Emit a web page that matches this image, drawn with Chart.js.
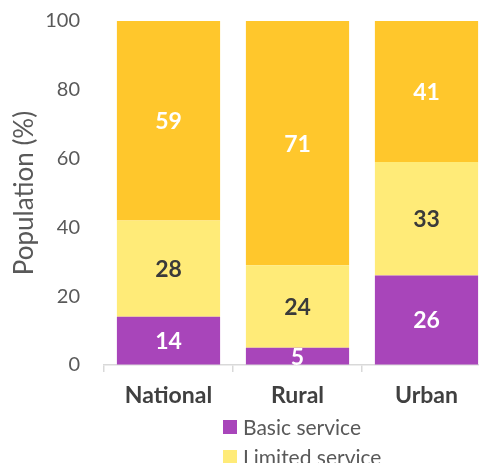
<!DOCTYPE html>
<html>
<head>
<meta charset="utf-8">
<script src="https://cdn.jsdelivr.net/npm/chart.js@4/dist/chart.umd.min.js"></script>
<style>
  html, body { margin: 0; padding: 0; background: #fff; overflow: hidden; }
  #wrap { width: 492px; height: 463px; }
</style>
</head>
<body>
<div id="wrap"><canvas id="chart" width="492" height="463"></canvas></div>
<script>
// Drinking-water service levels by area, % of population.
const categories = ["National", "Rural", "Urban"];
const basicService = [14, 5, 26];
const limitedService = [28, 24, 33];
const otherService = [59, 71, 41];
const yTicks = [0, 20, 40, 60, 80, 100];

const FONT = "Lato, 'Open Sans', sans-serif";
const GREY = "#595959";

// Value labels in the middle of the visible part of each bar segment.
const barLabels = {
  id: "barLabels",
  afterDatasetsDraw(chart) {
    const ctx = chart.ctx;
    const area = chart.chartArea;
    ctx.save();
    ctx.font = "bold 23px " + FONT;
    ctx.textAlign = "center";
    ctx.textBaseline = "middle";
    chart.data.datasets.forEach((ds, i) => {
      const meta = chart.getDatasetMeta(i);
      meta.data.forEach((bar, j) => {
        const top = Math.max(Math.min(bar.y, bar.base), area.top);
        const bottom = Math.min(Math.max(bar.y, bar.base), area.bottom);
        ctx.fillStyle = ds.labelColor;
        ctx.fillText(String(ds.data[j]), bar.x, (top + bottom) / 2 + 1);
      });
    });
    ctx.restore();
  },
};

// Vertical legend under the axis (only the first two series are listed).
const stackedLegend = {
  id: "stackedLegend",
  afterDraw(chart) {
    const ctx = chart.ctx;
    ctx.save();
    ctx.font = "21px " + FONT;
    ctx.textBaseline = "middle";
    ctx.textAlign = "left";
    chart.data.datasets.slice(0, 2).forEach((ds, i) => {
      const y = 427 + i * 30;
      ctx.fillStyle = ds.backgroundColor;
      ctx.fillRect(223, y - 7, 14, 14);
      ctx.fillStyle = GREY;
      ctx.fillText(ds.label, 243, y + 1);
    });
    ctx.restore();
  },
};

new Chart(document.getElementById("chart"), {
  type: "bar",
  data: {
    labels: categories,
    datasets: [
      { label: "Basic service", data: basicService, backgroundColor: "#A845BA", labelColor: "#ffffff" },
      { label: "Limited service", data: limitedService, backgroundColor: "#FFEB78", labelColor: "#3a3a3a" },
      { label: "Other", data: otherService, backgroundColor: "#FFC72C", labelColor: "#ffffff" },
    ],
  },
  options: {
    responsive: false,
    animation: false,
    barPercentage: 0.8,
    categoryPercentage: 1,
    layout: { padding: { top: 21, right: 1, left: 9, bottom: 0 } },
    plugins: {
      legend: { display: false },
      tooltip: { enabled: false },
    },
    scales: {
      x: {
        stacked: true,
        grid: { drawOnChartArea: false, drawTicks: true, tickLength: 7, color: "#D9D9D9", lineWidth: 1.5 },
        border: { display: true, color: "#D9D9D9", width: 1.5 },
        ticks: { color: "#404040", font: { family: FONT, size: 23, weight: "bold" }, padding: 10, maxRotation: 0 },
        afterFit: (s) => { s.height = 98; },
      },
      y: {
        stacked: true,
        min: 0,
        max: 100,
        afterBuildTicks: (s) => { s.ticks = yTicks.map((v) => ({ value: v })); },
        // invisible tick marks carry the gap between labels and bars
        grid: { display: true, drawOnChartArea: false, drawTicks: true, tickLength: 22, color: "rgba(0,0,0,0)" },
        border: { display: false },
        ticks: { color: GREY, font: { family: FONT, size: 20 }, padding: 2 },
        title: { display: true, text: "Population (%)", color: GREY, font: { family: FONT, size: 26 }, padding: { top: 0, bottom: 0 } },
        afterFit: (s) => { s.width = 95; },
      },
    },
  },
  plugins: [barLabels, stackedLegend],
});
</script>
</body>
</html>
